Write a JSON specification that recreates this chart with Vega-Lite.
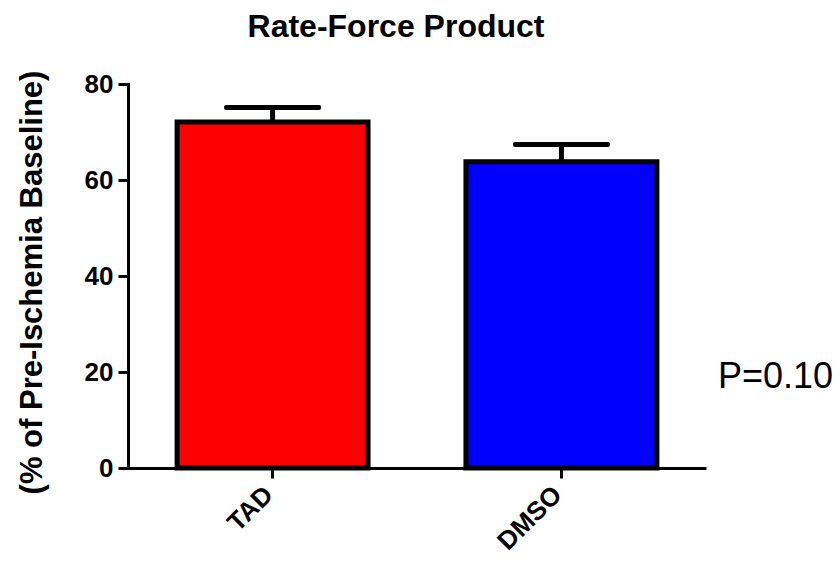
{
  "$schema": "https://vega.github.io/schema/vega-lite/v6.json",
  "width": 578,
  "height": 384,
  "autosize": {"type": "none"},
  "padding": {"left": 128, "top": 84, "right": 134, "bottom": 97},
  "background": "white",
  "config": {"view": {"stroke": null}, "font": "Liberation Sans"},
  "title": {
    "text": "Rate-Force Product",
    "font": "Liberation Sans",
    "fontSize": 32,
    "fontWeight": "bold",
    "color": "black",
    "anchor": "middle",
    "baseline": "alphabetic",
    "dx": -21,
    "offset": 1
  },
  "data": {
    "values": [
      {"group": "TAD", "mean": 72.1, "upper": 75.1},
      {"group": "DMSO", "mean": 63.8, "upper": 67.4}
    ]
  },
  "layer": [
    {
      "mark": {"type": "bar", "stroke": "black", "strokeWidth": 5, "strokeJoin": "miter"},
      "encoding": {
        "x": {
          "field": "group",
          "type": "nominal",
          "sort": ["TAD", "DMSO"],
          "scale": {"paddingInner": 0.339, "paddingOuter": 0.17},
          "axis": {
            "title": null,
            "labelAngle": -45,
            "labelFont": "Liberation Sans",
            "labelFontSize": 26,
            "labelFontWeight": "bold",
            "labelColor": "black",
            "labelPadding": 3,
            "labelOffset": -13,
            "tickColor": "black",
            "tickWidth": 3,
            "tickSize": 10,
            "domainColor": "black",
            "domainWidth": 3
          }
        },
        "y": {
          "field": "mean",
          "type": "quantitative",
          "scale": {"domain": [0, 80]},
          "axis": {
            "title": "(% of Pre-Ischemia Baseline)",
            "values": [0, 20, 40, 60, 80],
            "grid": false,
            "domainColor": "black",
            "domainWidth": 3,
            "domainCap": "square",
            "tickColor": "black",
            "tickWidth": 3,
            "tickSize": 10,
            "labelFont": "Liberation Sans",
            "labelFontSize": 26,
            "labelFontWeight": "bold",
            "labelColor": "black",
            "labelPadding": 5,
            "titleFont": "Liberation Sans",
            "titleFontSize": 31,
            "titleFontWeight": "bold",
            "titleColor": "black",
            "titleAngle": -90,
            "titleX": -96,
            "titleY": 198,
            "titleBaseline": "middle",
            "titleAlign": "center"
          }
        },
        "color": {
          "field": "group",
          "type": "nominal",
          "scale": {"domain": ["TAD", "DMSO"], "range": ["#FF0000", "#0000FF"]},
          "legend": null
        }
      }
    },
    {
      "mark": {"type": "rule", "strokeWidth": 5, "color": "black"},
      "encoding": {
        "x": {"field": "group", "type": "nominal", "sort": ["TAD", "DMSO"]},
        "y": {"field": "mean", "type": "quantitative"},
        "y2": {"field": "upper"}
      }
    },
    {
      "mark": {"type": "tick", "color": "black", "thickness": 5, "size": 97, "opacity": 1, "cornerRadius": 2},
      "encoding": {
        "x": {"field": "group", "type": "nominal", "sort": ["TAD", "DMSO"]},
        "y": {"field": "upper", "type": "quantitative"}
      }
    },
    {
      "data": {"values": [{"label": "P=0.10", "y": 18.9}]},
      "mark": {"type": "text", "align": "left", "baseline": "middle", "fontSize": 36, "font": "Liberation Sans", "color": "black", "dx": 12},
      "encoding": {
        "x": {"value": {"expr": "width"}},
        "y": {"field": "y", "type": "quantitative"},
        "text": {"field": "label"}
      }
    }
  ]
}
